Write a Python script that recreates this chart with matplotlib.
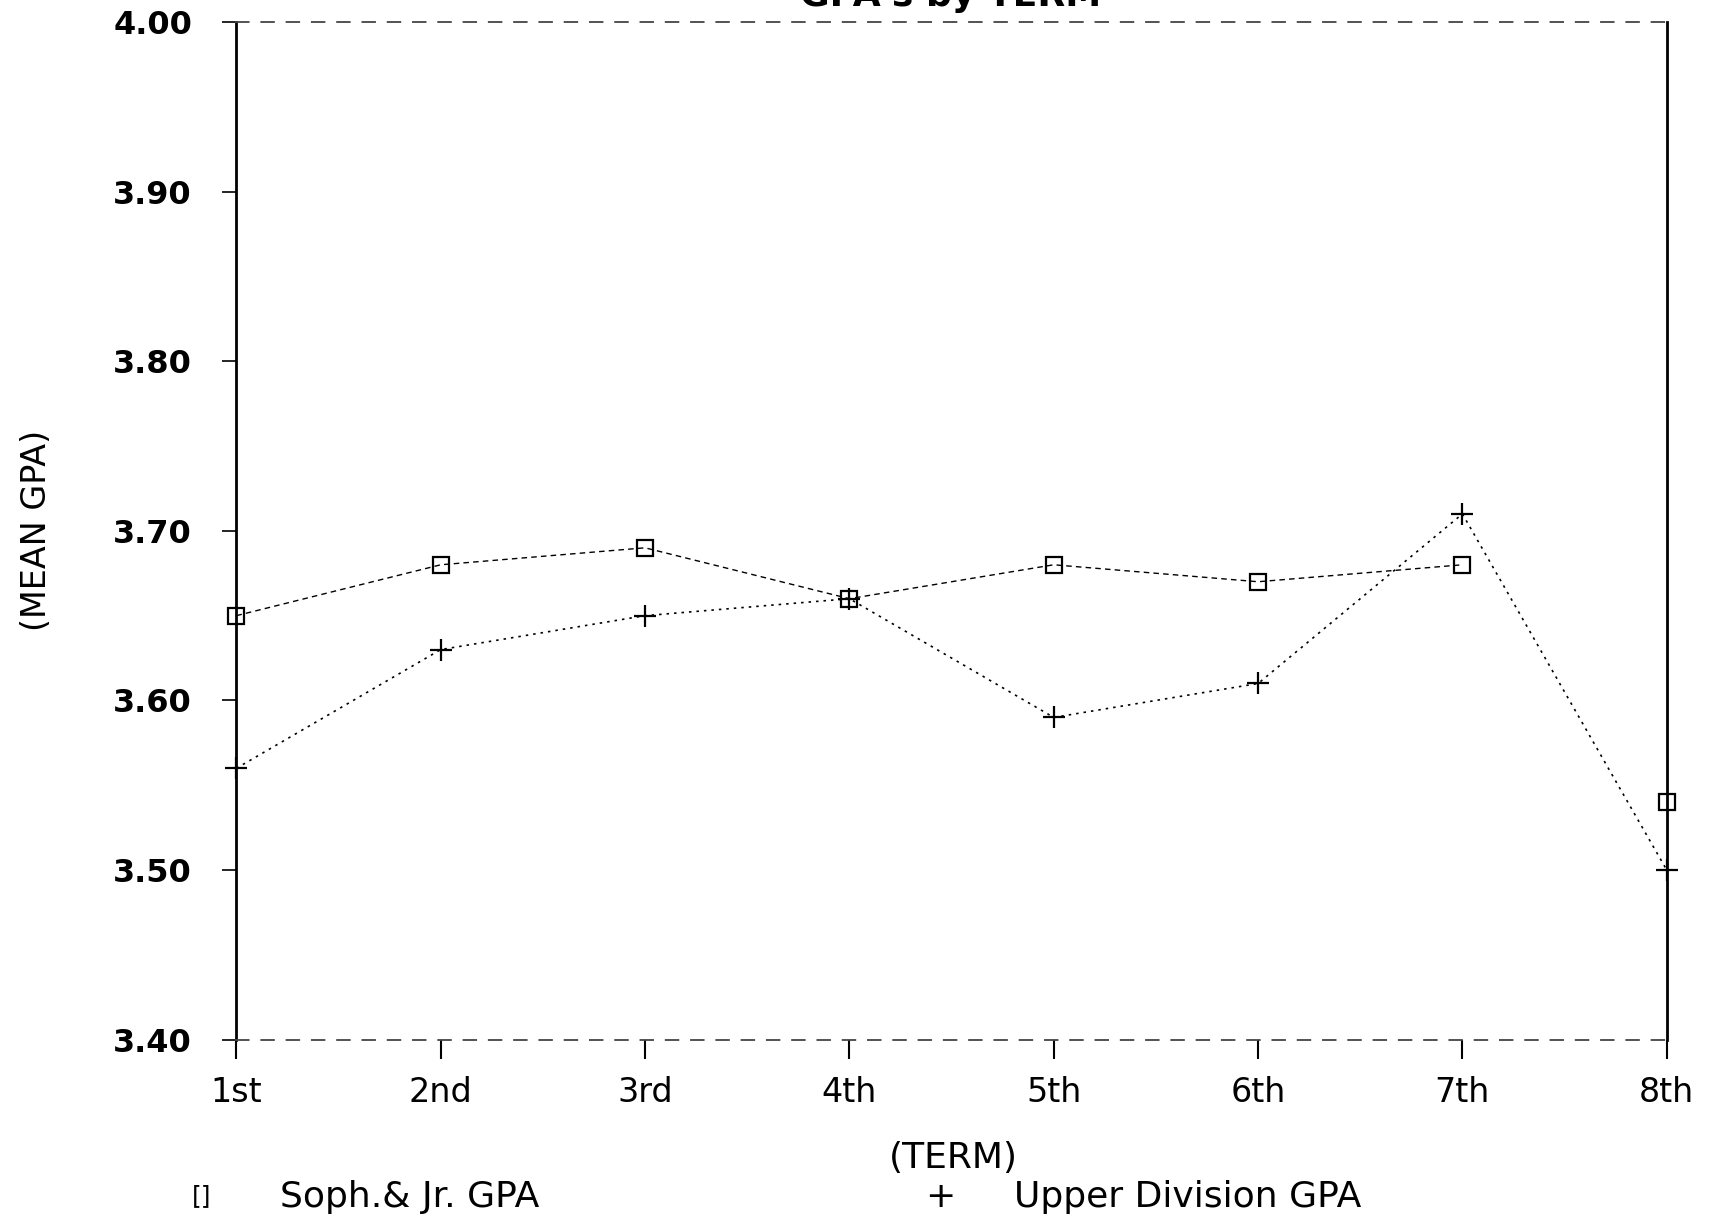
import matplotlib
matplotlib.use("Agg")
import matplotlib.pyplot as plt

# chart values
terms = ["1st", "2nd", "3rd", "4th", "5th", "6th", "7th", "8th"]
soph_jr_gpa = [3.65, 3.68, 3.69, 3.66, 3.68, 3.67, 3.68, 3.54]
upper_div_gpa = [3.56, 3.63, 3.65, 3.66, 3.59, 3.61, 3.71, 3.50]
y_ticks = [3.40, 3.50, 3.60, 3.70, 3.80, 3.90, 4.00]

fig = plt.figure(figsize=(17.13, 12.26), dpi=100)
ax = fig.add_axes([0.138, 0.152, 0.835, 0.830])

x = list(range(1, len(terms) + 1))

# soph/jr line stops at the 7th term, the 8th point stands alone
ax.plot(x[:7], soph_jr_gpa[:7], color="black", lw=1.0, ls=(0, (4, 3)))
ax.plot(x, soph_jr_gpa, ls="none", marker="s", ms=11, mfc="none",
        mec="black", mew=1.6, clip_on=False)
ax.plot(x, upper_div_gpa, color="black", lw=1.2, ls=(0, (1.5, 3)),
        marker="+", ms=16, mew=1.6, clip_on=False)

ax.set_xlim(1, 8)
ax.set_ylim(3.40, 4.00)

# left/right solid, top/bottom faint dashed like the plotter output
for side in ["left", "right"]:
    ax.spines[side].set_linewidth(2.0)
for side in ["top", "bottom"]:
    ax.spines[side].set_linewidth(1.3)
    ax.spines[side].set_linestyle((0, (7, 7)))
    ax.spines[side].set_color("#444444")

ax.set_xticks(x)
ax.set_xticklabels(terms, fontsize=24, fontweight="medium")
ax.set_yticks(y_ticks)
ax.set_yticklabels([f"{v:.2f}" for v in y_ticks], fontsize=23, fontweight="bold")
ax.tick_params(axis="x", direction="out", length=14, width=1.5, pad=12)
ax.tick_params(axis="y", direction="out", length=10, width=1.2, pad=22)

ax.set_ylabel("(MEAN GPA)", fontsize=24)
ax.yaxis.set_label_coords(-0.128, 0.5)
ax.set_xlabel("(TERM)", fontsize=26)
ax.xaxis.set_label_coords(0.501, -0.100)

# title is cut off at the top edge of the scan
fig.text(0.555, 0.989, "GPA's by TERM", fontsize=26, fontweight="bold",
         ha="center", va="bottom")

# legend as plain text along the bottom
fig.text(0.112, 0.024, "[]", fontsize=18, ha="left", va="center")
fig.text(0.1635, 0.024, "Soph.& Jr. GPA", fontsize=26, ha="left", va="center")
fig.text(0.540, 0.024, "+", fontsize=26, ha="left", va="center")
fig.text(0.592, 0.024, "Upper Division GPA", fontsize=26, ha="left", va="center")

fig.savefig("out.png", dpi=100, facecolor="white")
